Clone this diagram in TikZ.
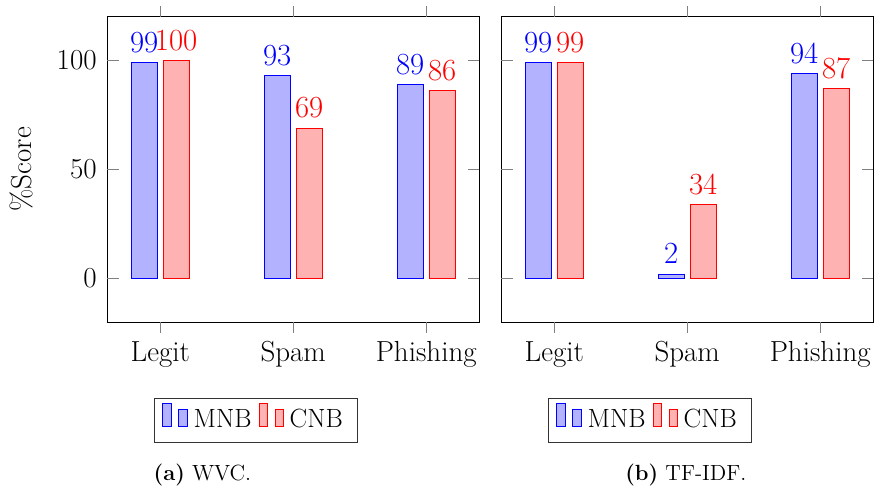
\documentclass[tikz,border=0pt]{standalone}
\usetikzlibrary{positioning}
\begin{document}
\begin{tikzpicture}[
    mnbbar/.style={draw=blue, fill=blue!30},
    cnbbar/.style={draw=red, fill=red!30},
    axistick/.style={gray},
    ticklabel/.style={inner sep=0pt, font=\fontsize{16.5}{19}\selectfont},
    valmnb/.style={blue, anchor=base, inner sep=0pt, yshift=0.2cm, font=\fontsize{17.5}{20}\selectfont},
    valcnb/.style={red, anchor=base, inner sep=0pt, yshift=0.2cm, font=\fontsize{17.5}{20}\selectfont},
    legendtext/.style={anchor=base west, inner sep=0pt, font=\fontsize{15}{18}\selectfont},
    subcaption/.style={anchor=base west, inner sep=0pt, font=\fontsize{12.5}{15}\selectfont}
]
    \useasboundingbox (0,0) rectangle (17.48,9.72);

    % left plot: WVC
    \begin{scope}[shift={(2.14cm,4.154cm)}, x=2.66cm, y=0.0436cm]
    \draw (0,-20) rectangle (2.8,120);
    \draw[axistick] (0,0) -- ++(0.23cm,0) (0,50) -- ++(0.23cm,0) (0,100) -- ++(0.23cm,0);
    \draw[axistick] (2.8,0) -- ++(-0.23cm,0) (2.8,50) -- ++(-0.23cm,0) (2.8,100) -- ++(-0.23cm,0);
    \draw[axistick] (0.4,-20) -- ++(0,-0.22cm) (1.4,-20) -- ++(0,-0.22cm) (2.4,-20) -- ++(0,-0.22cm);
    \draw[axistick] (0.4,120) -- ++(0,0.22cm) (1.4,120) -- ++(0,0.22cm) (2.4,120) -- ++(0,0.22cm);

    \node[ticklabel, left=0.2cm] (ya0) at (0,0) {0};
    \node[ticklabel, left=0.2cm] (ya50) at (0,50) {50};
    \node[ticklabel, left=0.2cm] (ya100) at (0,100) {100};
    \node[ticklabel, rotate=90] (ylabel) at (-0.64,50) {\%Score};

    \node[ticklabel, anchor=base, yshift=-0.8cm] (xalegit) at (0.4,-20) {Legit};
    \node[ticklabel, anchor=base, yshift=-0.8cm] (xaspam) at (1.4,-20) {Spam};
    \node[ticklabel, anchor=base, yshift=-0.8cm] (xaphish) at (2.4,-20) {Phishing};

    \draw[mnbbar] (0.18,0) rectangle (0.38,99);
    \draw[cnbbar] (0.42,0) rectangle (0.62,100);
    \draw[mnbbar] (1.18,0) rectangle (1.38,93);
    \draw[cnbbar] (1.42,0) rectangle (1.62,69);
    \draw[mnbbar] (2.18,0) rectangle (2.38,89);
    \draw[cnbbar] (2.42,0) rectangle (2.62,86);

    \node[valmnb] (va1) at (0.28,99) {99};
    \node[valcnb] (va2) at (0.52,100) {100};
    \node[valmnb] (va3) at (1.28,93) {93};
    \node[valcnb] (va4) at (1.52,69) {69};
    \node[valmnb] (va5) at (2.28,89) {89};
    \node[valcnb] (va6) at (2.52,86) {86};
    \end{scope}

    % right plot: TF-IDF
    \begin{scope}[shift={(10.02cm,4.154cm)}, x=2.66cm, y=0.0436cm]
    \draw (0,-20) rectangle (2.8,120);
    \draw[axistick] (0,0) -- ++(0.23cm,0) (0,50) -- ++(0.23cm,0) (0,100) -- ++(0.23cm,0);
    \draw[axistick] (2.8,0) -- ++(-0.23cm,0) (2.8,50) -- ++(-0.23cm,0) (2.8,100) -- ++(-0.23cm,0);
    \draw[axistick] (0.4,-20) -- ++(0,-0.22cm) (1.4,-20) -- ++(0,-0.22cm) (2.4,-20) -- ++(0,-0.22cm);
    \draw[axistick] (0.4,120) -- ++(0,0.22cm) (1.4,120) -- ++(0,0.22cm) (2.4,120) -- ++(0,0.22cm);

    \node[ticklabel, anchor=base, yshift=-0.8cm] (xblegit) at (0.4,-20) {Legit};
    \node[ticklabel, anchor=base, yshift=-0.8cm] (xbspam) at (1.4,-20) {Spam};
    \node[ticklabel, anchor=base, yshift=-0.8cm] (xbphish) at (2.4,-20) {Phishing};

    \draw[mnbbar] (0.18,0) rectangle (0.38,99);
    \draw[cnbbar] (0.42,0) rectangle (0.62,99);
    \draw[mnbbar] (1.18,0) rectangle (1.38,2);
    \draw[cnbbar] (1.42,0) rectangle (1.62,34);
    \draw[mnbbar] (2.18,0) rectangle (2.38,94);
    \draw[cnbbar] (2.42,0) rectangle (2.62,87);

    \node[valmnb] (vb1) at (0.28,99) {99};
    \node[valcnb] (vb2) at (0.52,99) {99};
    \node[valmnb] (vb3) at (1.28,2) {2};
    \node[valcnb] (vb4) at (1.52,34) {34};
    \node[valmnb] (vb5) at (2.28,94) {94};
    \node[valcnb] (vb6) at (2.52,87) {87};
    \end{scope}

    % legends
    \begin{scope}[]
    \draw[black!80] (3.086,0.866) rectangle (7.146,1.754);
    \draw[mnbbar] (3.254,1.186) rectangle (3.434,1.654);
    \draw[mnbbar] (3.574,1.186) rectangle (3.746,1.534);
    \node[legendtext] (lamnb) at (3.866,1.166) {MNB};
    \draw[cnbbar] (5.186,1.186) rectangle (5.354,1.654);
    \draw[cnbbar] (5.506,1.186) rectangle (5.674,1.534);
    \node[legendtext] (lacnb) at (5.786,1.166) {CNB};
    \end{scope}

    \begin{scope}[shift={(7.88cm,0)}]
    \draw[black!80] (3.086,0.866) rectangle (7.146,1.754);
    \draw[mnbbar] (3.254,1.186) rectangle (3.434,1.654);
    \draw[mnbbar] (3.574,1.186) rectangle (3.746,1.534);
    \node[legendtext] (lbmnb) at (3.866,1.166) {MNB};
    \draw[cnbbar] (5.186,1.186) rectangle (5.354,1.654);
    \draw[cnbbar] (5.506,1.186) rectangle (5.674,1.534);
    \node[legendtext] (lbcnb) at (5.786,1.166) {CNB};
    \end{scope}

    \node[subcaption] (capa) at (3.066,0.1) {\textbf{(a)} WVC.};
    \node[subcaption] (capb) at (12.5,0.1) {\textbf{(b)} TF-IDF.};
\end{tikzpicture}
\end{document}
